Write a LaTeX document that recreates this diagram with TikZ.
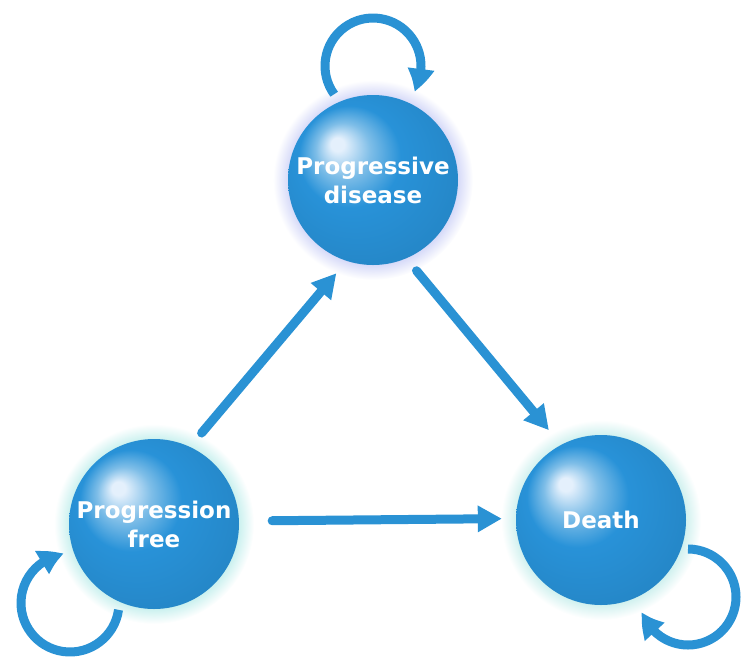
\documentclass[tikz,border=0pt]{standalone}
\usepackage{fontspec}
\setmainfont{DejaVu Sans}
\usetikzlibrary{arrows.meta,bending,backgrounds}
\definecolor{sphblue}{RGB}{40,146,216}
\definecolor{arrblue}{RGB}{42,146,212}
\definecolor{sphhi}{RGB}{228,240,252}
\definecolor{glowT}{RGB}{212,216,248}
\definecolor{glowL}{RGB}{200,240,238}
\definecolor{glowR}{RGB}{206,240,238}
\pgfdeclareradialshading{spherefill}{\pgfpoint{-11bp}{11bp}}{color(0bp)=(sphhi); color(2bp)=(sphhi); color(8bp)=(sphblue!60!white); color(15bp)=(sphblue); color(30bp)=(sphblue!92!black); color(40bp)=(sphblue!88!black)}
\pgfdeclareradialshading{glowTs}{\pgfpoint{0bp}{0bp}}{color(0bp)=(glowT); color(21bp)=(glowT); color(25bp)=(white); color(40bp)=(white)}
\pgfdeclareradialshading{glowLs}{\pgfpoint{0bp}{0bp}}{color(0bp)=(glowL); color(21bp)=(glowL); color(25bp)=(white); color(40bp)=(white)}
\pgfdeclareradialshading{glowRs}{\pgfpoint{0bp}{0bp}}{color(0bp)=(glowR); color(21bp)=(glowR); color(25bp)=(white); color(40bp)=(white)}
\tikzset{
  state/.style={circle, minimum size=170pt, inner sep=0pt, shade, shading=spherefill,
    text=white, font=\bfseries\fontsize{23}{29}\selectfont, align=center},
  arr/.style={draw=arrblue, line width=9pt, line cap=round, -{Triangle[length=24pt,width=25pt]}},
  loopy/.style={draw=arrblue, line width=9pt, -{Triangle[length=24pt,width=25pt,bend]}}
}
\begin{document}
\begin{tikzpicture}[x=1pt,y=1pt]
\useasboundingbox (0,0) rectangle (742,-665);
\node[state] (pd) at (373,-180) {Progressive\\disease};
\node[state] (pf) at (154,-524) {Progression\\free};
\node[state] (de) at (601,-520) {Death};
\begin{scope}[on background layer]
  \shade[shading=glowTs] (pd.center) circle[radius=100pt];
  \shade[shading=glowLs] (pf.center) circle[radius=100pt];
  \shade[shading=glowRs] (de.center) circle[radius=100pt];
\end{scope}
% straight transitions
\draw[arr, shorten <=18pt, shorten >=16pt] (pf.65) -- (pd.252);
\draw[arr, shorten <=16pt, shorten >=19pt] (pd.-67) -- (de.118);
\draw[arr, shorten <=33pt, shorten >=14pt] (pf.2) -- (de.179);
% self loops
\coordinate (pdloop) at ([yshift=114pt]pd.center);
\coordinate (pfloop) at ([xshift=-84pt,yshift=-79pt]pf.center);
\coordinate (deloop) at ([xshift=87pt,yshift=-77pt]de.center);
\draw[loopy] ([shift={(216:48)}]pdloop) arc[start angle=216, end angle=-32, radius=48];
\draw[loopy] ([shift={(-8:49)}]pfloop) arc[start angle=-8, end angle=-263, radius=49];
\draw[loopy] ([shift={(90:48)}]deloop) arc[start angle=90, end angle=-162, radius=48];
\end{tikzpicture}
\end{document}
